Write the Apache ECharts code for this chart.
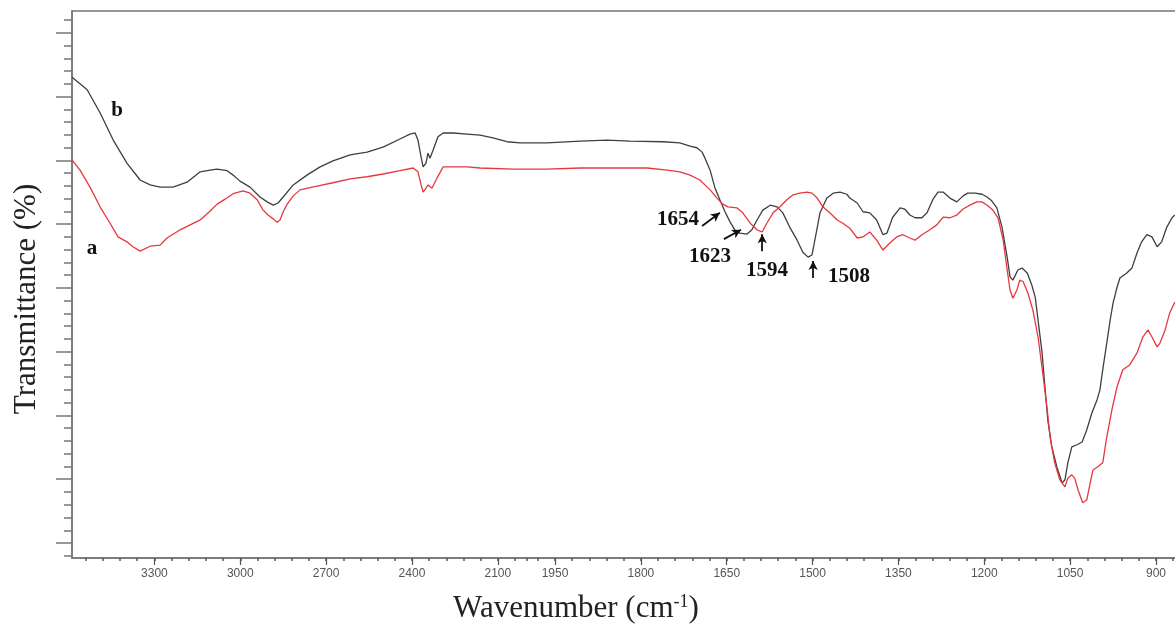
<!DOCTYPE html>
<html><head><meta charset="utf-8">
<script src="https://cdn.jsdelivr.net/npm/echarts@6/dist/echarts.min.js"></script>
<style>html,body{margin:0;padding:0;background:#fff}#c{width:1175px;height:639px}</style>
</head><body><div id="c"></div>
<script>
// ---- data ----
const seriesNames = ['b', 'a'];
const waveB = [3588,3560,3535,3490,3444,3396,3350,3315,3280,3235,3186,3140,3106,3081,3046,3025,3001,2966,2931,2906,2885,2868,2850,2815,2767,2721,2676,2616,2557,2501,2442,2407,2389,2379,2368,2361,2351,2344,2337,2326,2309,2291,2256,2208,2162,2117,2068,2022,1964,1906,1859,1819,1761,1732,1714,1702,1693,1688,1679,1671,1662,1653,1644,1636,1627,1615,1606,1597,1587,1574,1562,1552,1540,1527,1517,1508,1501,1496,1487,1475,1464,1452,1440,1435,1422,1412,1400,1388,1377,1370,1360,1347,1339,1330,1321,1309,1300,1290,1281,1272,1260,1248,1237,1229,1216,1204,1195,1187,1178,1169,1160,1155,1150,1141,1134,1125,1117,1111,1106,1099,1094,1089,1082,1073,1064,1059,1054,1047,1038,1029,1021,1012,1003,998,993,986,980,975,968,963,951,942,933,925,916,907,898,890,881,872,867];
const transB = [87.9,86.7,85.6,81.4,76.4,72.2,69.1,68.2,67.8,67.8,68.7,70.6,70.9,71.1,70.8,70.0,68.9,67.8,66.0,65.1,64.5,64.9,66.0,68.2,70.0,71.5,72.6,73.7,74.2,75.1,76.6,77.5,77.7,76.4,73.3,71.5,72.2,74.0,73.1,74.6,77.0,77.7,77.7,77.5,77.3,76.8,76.1,75.9,75.9,76.2,76.4,76.2,76.1,75.9,75.3,75.0,74.2,73.1,70.9,67.8,65.5,63.3,61.4,60.0,59.4,59.2,60.0,61.8,63.6,64.5,64.2,63.1,60.5,58.1,55.9,55.0,55.4,58.1,63.1,65.8,66.7,66.9,66.5,65.8,64.9,63.3,63.1,61.8,59.1,59.4,62.3,64.0,63.8,62.7,62.2,62.2,63.1,65.5,66.9,66.9,65.8,65.1,66.2,66.7,66.7,66.5,66.0,65.3,64.0,60.5,55.0,51.4,50.8,52.7,53.0,52.1,49.9,47.7,43.5,37.5,31.3,25.2,20.3,16.6,13.7,14.3,17.4,20.3,20.7,21.2,23.4,26.5,28.9,30.7,34.4,39.3,43.5,46.6,49.5,51.2,52.1,53.0,55.8,57.8,59.1,58.7,56.9,57.8,60.5,62.2,62.7];
const waveA = [3588,3560,3525,3490,3455,3427,3396,3375,3350,3315,3280,3256,3210,3140,3106,3081,3053,3025,2990,2966,2941,2920,2903,2885,2871,2861,2850,2836,2815,2791,2732,2676,2616,2557,2501,2442,2396,2379,2368,2361,2351,2344,2330,2312,2291,2256,2208,2162,2047,1964,1906,1849,1789,1754,1732,1714,1697,1679,1667,1657,1648,1632,1622,1609,1597,1588,1580,1569,1557,1545,1534,1522,1510,1501,1492,1482,1470,1457,1447,1435,1422,1412,1400,1388,1377,1365,1353,1342,1330,1321,1309,1295,1283,1272,1260,1248,1237,1225,1213,1204,1195,1185,1176,1167,1160,1155,1150,1143,1138,1132,1124,1115,1106,1097,1090,1085,1077,1068,1059,1054,1047,1042,1036,1028,1021,1015,1010,1003,998,993,986,977,968,958,946,933,923,914,907,898,893,884,876,867];
const transA = [72.8,70.9,67.8,64.2,61.2,58.7,57.8,56.9,56.1,57.0,57.2,58.5,60.0,61.8,63.4,64.7,65.6,66.6,67.1,66.7,65.5,63.6,62.7,62.0,61.4,61.8,63.3,64.7,66.2,67.3,68.0,68.6,69.3,69.7,70.2,70.8,71.3,70.6,68.2,66.9,67.6,68.2,67.6,69.5,71.5,71.5,71.5,71.3,71.1,71.1,71.3,71.3,71.3,70.9,70.6,70.0,69.1,67.3,65.8,64.7,64.2,64.0,63.1,61.2,60.0,59.6,61.2,63.1,64.2,65.5,66.4,66.7,66.9,66.7,65.8,64.2,63.1,61.8,61.2,60.3,58.5,58.7,59.6,58.1,56.3,57.6,58.7,59.1,58.5,58.1,59.1,60.0,60.9,62.3,62.2,62.7,63.8,64.5,65.1,65.1,64.5,63.6,62.2,58.1,52.7,49.0,47.5,49.0,50.8,50.5,48.5,45.3,40.4,33.1,27.1,22.1,17.4,14.3,13.0,14.6,15.2,14.6,12.4,10.1,10.6,13.7,16.1,16.6,17.0,17.4,22.1,27.1,31.3,34.4,35.3,37.5,40.4,41.7,40.4,38.6,39.3,41.7,44.8,46.8];
const xTickLabels = [3300,3000,2700,2400,2100,1950,1800,1650,1500,1350,1200,1050,900];
const peakLabels = ['1654','1623','1594','1508'];
// arrows: [fromWave, fromT, toWave, toT]
const peakArrows = [[1693,60.7,1662,63.1],[1655,58.3,1625,60.0],[1588,56.1,1588,59.2],[1499,51.2,1499,54.3]];

// ---- axis scale: half scale above 2000 cm-1 ----
function toU(w){ return w > 2000 ? 2000 + (w - 2000) / 2 : w; }
function toW(u){ return u > 2000 ? 2000 + (u - 2000) * 2 : u; }

const X_MIN = 858, X_MAX = 2794, Y_MIN = 0, Y_MAX = 100;
const majorU = xTickLabels.map(toU);
const minorU = [];
for (let u = 2770; u > 2000; u -= 30) minorU.push(u);
minorU.push(2000);
for (let u = 1980; u >= 870; u -= 30) minorU.push(u);
const yMajor = [], yMinor = [];
for (let k = 0; k <= 8; k++) yMajor.push(2.742 + 11.655 * k);
for (let j = -1; j <= 41; j++) yMinor.push(2.742 + 2.331 * j);

const chart = echarts.init(document.getElementById('c'), null, {renderer: 'canvas'});
const gridBox = {left: 72, top: 11, right: -5, bottom: 81, containLabel: false, outerBoundsMode: 'none'};
const axisGray = '#767676';
const serif = '"Liberation Serif", "Times New Roman", serif';

chart.setOption({
  animation: false,
  backgroundColor: '#ffffff',
  grid: [
    Object.assign({show: true, borderColor: axisGray, borderWidth: 1.5, backgroundColor: 'transparent'}, gridBox),
    Object.assign({show: false}, gridBox)
  ],
  xAxis: [
    {type: 'value', gridIndex: 0, min: X_MIN, max: X_MAX, inverse: true, position: 'bottom',
     axisLine: {show: true, lineStyle: {color: axisGray, width: 1.5}},
     axisTick: {show: true, length: 7, customValues: majorU, lineStyle: {color: '#555', width: 1.2}},
     axisLabel: {show: true, customValues: majorU, formatter: v => String(Math.round(toW(v))),
                 margin: 10, fontSize: 12, color: '#555', fontFamily: '"Liberation Sans", Arial, sans-serif'},
     splitLine: {show: false}},
    {type: 'value', gridIndex: 1, min: X_MIN, max: X_MAX, inverse: true, position: 'bottom',
     axisLine: {show: false},
     axisTick: {show: true, length: 3, customValues: minorU, lineStyle: {color: '#555', width: 1.5}},
     axisLabel: {show: false}, splitLine: {show: false}}
  ],
  yAxis: [
    {type: 'value', gridIndex: 0, min: Y_MIN, max: Y_MAX, position: 'left',
     axisLine: {show: true, lineStyle: {color: axisGray, width: 1.5}},
     axisTick: {show: true, length: 16, customValues: yMajor, lineStyle: {color: '#777', width: 1.5}},
     axisLabel: {show: false}, splitLine: {show: false}},
    {type: 'value', gridIndex: 1, min: Y_MIN, max: Y_MAX, position: 'left',
     axisLine: {show: false},
     axisTick: {show: true, length: 8, customValues: yMinor, lineStyle: {color: '#777', width: 1.5}},
     axisLabel: {show: false}, splitLine: {show: false}}
  ],
  series: [
    {name: seriesNames[0], type: 'line', xAxisIndex: 0, yAxisIndex: 0, showSymbol: false, symbol: 'none',
     data: waveB.map((w, i) => [toU(w), transB[i]]),
     lineStyle: {color: '#3f3f3f', width: 1.3}, z: 2},
    {name: seriesNames[1], type: 'line', xAxisIndex: 0, yAxisIndex: 0, showSymbol: false, symbol: 'none',
     data: waveA.map((w, i) => [toU(w), transA[i]]),
     lineStyle: {color: '#e8373c', width: 1.3}, z: 3,
     markLine: {silent: true, symbol: ['none', 'arrow'], symbolSize: [7, 9], animation: false,
       lineStyle: {color: '#111', width: 1.8, type: 'solid'}, label: {show: false},
       emphasis: {disabled: true},
       data: peakArrows.map(a => [{coord: [toU(a[0]), a[1]]}, {coord: [toU(a[2]), a[3]]}])}}
  ],
  graphic: [
    {type: 'text', x: 117, y: 111, style: {text: seriesNames[0], font: 'bold 21px ' + serif, fill: '#111', align: 'center', verticalAlign: 'middle'}},
    {type: 'text', x: 92, y: 249, style: {text: seriesNames[1], font: 'bold 21px ' + serif, fill: '#111', align: 'center', verticalAlign: 'middle'}},
    {type: 'text', x: 678, y: 220, style: {text: peakLabels[0], font: 'bold 21px ' + serif, fill: '#111', align: 'center', verticalAlign: 'middle'}},
    {type: 'text', x: 710, y: 257, style: {text: peakLabels[1], font: 'bold 21px ' + serif, fill: '#111', align: 'center', verticalAlign: 'middle'}},
    {type: 'text', x: 767, y: 271, style: {text: peakLabels[2], font: 'bold 21px ' + serif, fill: '#111', align: 'center', verticalAlign: 'middle'}},
    {type: 'text', x: 849, y: 277, style: {text: peakLabels[3], font: 'bold 21px ' + serif, fill: '#111', align: 'center', verticalAlign: 'middle'}},
    {type: 'text', x: 27, y: 299, rotation: Math.PI / 2,
     style: {text: 'Transmittance (%)', font: '31px ' + serif, fill: '#222', align: 'center', verticalAlign: 'middle'}},
    {type: 'text', x: 576, y: 609,
     style: {text: '{n|Wavenumber (cm}{s|-1}{n|)}', align: 'center', verticalAlign: 'middle', fill: '#222',
       rich: {n: {fontSize: 31, fontFamily: serif, fill: '#222', verticalAlign: 'bottom'},
              s: {fontSize: 18, fontFamily: serif, fill: '#222', verticalAlign: 'top'}}}}
  ]
});
</script>
</body></html>
